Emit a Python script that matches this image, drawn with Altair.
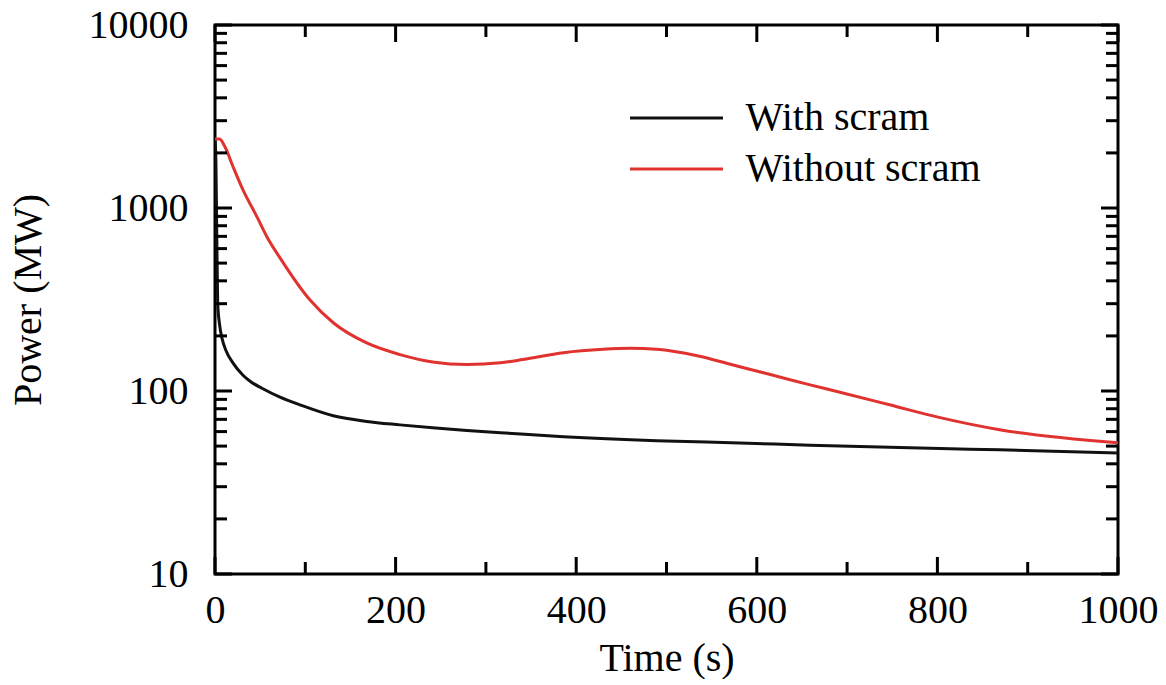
import altair as alt
import pandas as pd

# ---- data ----
t_scram = [0, 1, 2, 3, 5, 8, 12, 20, 31, 40, 52, 72, 94, 131, 168, 205, 241,
           279, 316, 386, 489, 581, 659, 758, 803, 869, 1000]
p_scram = [2400, 1800, 700, 300, 232, 192, 167, 142, 122, 112, 103.5, 92.5, 84,
           73.2, 68.2, 65.3, 62.9, 60.8, 59.2, 56.3, 53.5, 52.0, 50.6, 49.1,
           48.5, 47.7, 45.9]

t_noscram = [0, 5, 11, 20, 31, 46.5, 57.6, 72, 105, 131, 168, 205, 241, 279,
             316, 341, 386, 430, 460, 489, 534, 578, 615, 659, 692, 747, 803,
             869, 1000]
p_noscram = [2380, 2380, 2160, 1680, 1256, 894, 695, 534, 315, 236, 183, 158,
             144, 139.5, 142.5, 148.5, 162, 169, 171, 169, 156, 137, 123, 108,
             98.5, 84.1, 71.5, 61.4, 52.1]

series_names = ["With scram", "Without scram"]
series_colors = ["#111111", "#e0322f"]

y_major = [10, 100, 1000, 10000]
y_minor = [m * d for d in (10, 100, 1000) for m in range(2, 10)]
x_major = [0, 200, 400, 600, 800, 1000]
x_minor = [100, 300, 500, 700, 900]

# ---- tables ----
df = pd.concat([
    pd.DataFrame({"time": t_scram, "power": p_scram, "series": series_names[0]}),
    pd.DataFrame({"time": t_noscram, "power": p_noscram, "series": series_names[1]}),
])
ymaj = pd.DataFrame({"v": y_major})
ymin = pd.DataFrame({"v": y_minor})
xmaj = pd.DataFrame({"v": x_major})
xmin = pd.DataFrame({"v": x_minor})

W, H = 903, 549
FONT = "Liberation Serif"
MAJ, MIN = 17, 12

xscale = alt.Scale(domain=[0, 1000], nice=False, zero=False)
yscale = alt.Scale(type="log", domain=[10, 10000], nice=False)

x_axis = alt.Axis(title="Time (s)", values=x_major, format="d",
                  ticks=False, tickSize=0, domain=False, grid=False,
                  labelFlush=False, labelOverlap=False,
                  labelPadding=16, labelFontSize=40, labelFont=FONT,
                  labelColor="black", titleFont=FONT, titleFontSize=40,
                  titleFontWeight="normal", titleColor="black",
                  titleBaseline="alphabetic", titleY=96)
y_axis = alt.Axis(title="Power (MW)", values=y_major, format="d",
                  ticks=False, tickSize=0, domain=False, grid=False,
                  labelOverlap=False, labelFlush=False,
                  labelPadding=27, labelFontSize=40, labelFont=FONT,
                  labelColor="black", titleFont=FONT, titleFontSize=40,
                  titleFontWeight="normal", titleColor="black",
                  titleBaseline="alphabetic", titleX=-175)

lines = alt.Chart(df).mark_line(strokeWidth=3, interpolate="monotone", clip=True).encode(
    x=alt.X("time:Q", scale=xscale, axis=x_axis),
    y=alt.Y("power:Q", scale=yscale, axis=y_axis),
    color=alt.Color("series:N",
                    scale=alt.Scale(domain=series_names, range=series_colors),
                    legend=alt.Legend(title=None, orient="none", legendX=415,
                                      legendY=73, padding=0,
                                      symbolType="M-5,0H5", symbolSize=346,
                                      symbolStrokeWidth=3, symbolOffset=26.5,
                                      labelOffset=49, rowPadding=11,
                                      labelFont=FONT, labelFontSize=40,
                                      labelColor="black", labelLimit=400)),
)

def yticks(data, length):
    left = alt.Chart(data).mark_rule(strokeWidth=3, color="black").encode(
        y=alt.Y("v:Q", scale=yscale, axis=y_axis),
        x=alt.value(0), x2=alt.value(length))
    right = alt.Chart(data).mark_rule(strokeWidth=3, color="black").encode(
        y=alt.Y("v:Q", scale=yscale, axis=y_axis),
        x=alt.value(W), x2=alt.value(W - length))
    return [left, right]

def xticks(data, length):
    bottom = alt.Chart(data).mark_rule(strokeWidth=3, color="black").encode(
        x=alt.X("v:Q", scale=xscale, axis=x_axis),
        y=alt.value(H), y2=alt.value(H - length))
    top = alt.Chart(data).mark_rule(strokeWidth=3, color="black").encode(
        x=alt.X("v:Q", scale=xscale, axis=x_axis),
        y=alt.value(0), y2=alt.value(length))
    return [bottom, top]

layers = [lines] + yticks(ymaj, MAJ) + yticks(ymin, MIN) + xticks(xmaj, MAJ) + xticks(xmin, MIN)

chart = alt.layer(*layers).properties(
    width=W, height=H,
    padding={"left": 207, "top": 17, "right": 40, "bottom": 105},
    autosize=alt.AutoSizeParams(type="none"),
).configure(
    background="white",
    view=alt.ViewConfig(stroke="black", strokeWidth=3),
)

chart.save("out.html", embed_options={"renderer": "svg", "actions": False})
